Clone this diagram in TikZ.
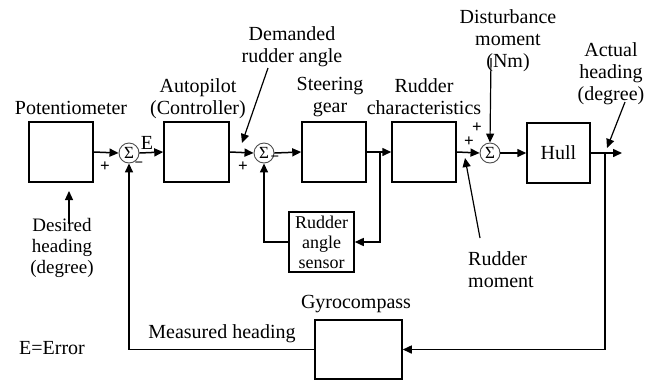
\documentclass[tikz,border=0pt]{standalone}
\usepackage{fontspec}
\setmainfont{Liberation Serif}
\usetikzlibrary{arrows.meta}
\begin{document}
\begin{tikzpicture}[x=1bp,y=-1bp,
  blk/.style={draw,line width=1.5bp,inner sep=0pt,minimum width=64bp,minimum height=60bp},
  sumnode/.style={circle,draw=black!70,line width=0.9bp,minimum size=20bp,inner sep=0pt,font=\fontsize{17bp}{17bp}\selectfont},
  lbl/.style={inner sep=0pt,align=center,font=\fontsize{20bp}{22bp}\selectfont},
  small/.style={inner sep=0pt,align=center,font=\fontsize{18bp}{20bp}\selectfont},
  sgn/.style={inner sep=0pt,font=\bfseries\fontsize{17bp}{17bp}\selectfont},
  msgn/.style={inner sep=0pt,text height=1.5bp,text depth=0pt,font=\bfseries\fontsize{15bp}{15bp}\selectfont},
  arr/.style={line width=1.5bp,-{Triangle[length=9bp,width=8bp]}},
  ann/.style={line width=1.2bp,-{Triangle[length=9bp,width=8bp]}}]
\useasboundingbox (0,0) rectangle (654,380);
% blocks
\node[blk] (pot) at (61,152) {};
\node[blk,minimum width=65bp] (ap) at (196.5,152) {};
\node[blk] (sg) at (334,152) {};
\node[blk] (rc) at (424,152) {};
\node[blk,minimum width=63bp,lbl] (hull) at (558.5,153) {Hull};
\node[blk,minimum width=65bp,small] (sen) at (321.5,242) {Rudder\\angle\\sensor};
\node[blk,minimum width=87bp,minimum height=59bp] (gyro) at (358.5,349.5) {};
% summing junctions
\node[sumnode] (s1) at (129,153) {Σ};
\node[sumnode] (s2) at (264,153) {Σ};
\node[sumnode] (s3) at (490,153) {Σ};
% labels
\node[lbl] (lpot) at (71,108) {Potentiometer};
\node[lbl] (lap) at (198,99) {Autopilot\\(Controller)};
\node[lbl] (ldem) at (292,47) {Demanded\\rudder angle};
\node[lbl] (lsg) at (330,97) {Steering\\gear};
\node[lbl] (lrc) at (424,97) {Rudder\\characteristics};
\node[lbl] (ldist) at (508,40.5) {Disturbance\\moment\\(Nm)};
\node[lbl] (lact) at (611,74) {Actual\\heading\\(degree)};
\node[lbl,anchor=west,align=left] (lrm) at (468,269.5) {Rudder\\moment};
\node[lbl] (lgyro) at (356,304) {Gyrocompass};
\node[lbl] (lmeas) at (222,334) {Measured heading};
\node[lbl] (lerr) at (52,348) {E=Error};
\node[inner sep=0pt,align=center,font=\fontsize{19bp}{21bp}\selectfont] (ldes) at (62,248) {Desired\\heading\\(degree)};
\node[lbl] (lE) at (147,143) {E};
% signs
\node[sgn] (p1) at (105,167) {+};
\node[sgn] (p2) at (243,167) {+};
\node[sgn] (p3) at (477,128) {+};
\node[sgn] (p4) at (469,142) {+};
\node[msgn] (m1) at (139,167) {−};
\node[msgn] (m2) at (275,161) {−};
% main path
\draw[arr] (pot.east) -- (s1.west);
\draw[arr] (s1.east) -- (ap.west);
\draw[arr] (ap.east) -- (s2.west);
\draw[arr] (s2.east) -- (sg.west);
\draw[arr] (sg.east) -- (rc.west);
\draw[arr] (rc.east) -- (s3.west);
\draw[arr] (s3.east) -- (hull.west);
\coordinate (out) at (622,153);
\draw[arr] (hull.east) -- (out);
% inner loop
\coordinate (j1) at (380,153);
\draw[arr] (j1) |- (sen.east);
\draw[arr] (sen.west) -| (s2.south);
% outer loop
\coordinate (j2) at (605,153);
\draw[arr] (j2) |- (gyro.east);
\draw[arr] (gyro.west) -| (s1.south);
% annotation arrows
\coordinate (a1s) at (69,224); \coordinate (a1e) at (69,191);
\draw[ann] (a1s) -- (a1e);
\coordinate (a2s) at (268,68); \coordinate (a2e) at (242,143);
\draw[ann] (a2s) -- (a2e);
\coordinate (a3s) at (491,58);
\draw[ann] (a3s) -- (s3.north);
\coordinate (a4s) at (625,102); \coordinate (a4e) at (607,148);
\draw[ann] (a4s) -- (a4e);
\coordinate (a5s) at (480,238); \coordinate (a5e) at (465,158);
\draw[ann] (a5s) -- (a5e);
\end{tikzpicture}
\end{document}
